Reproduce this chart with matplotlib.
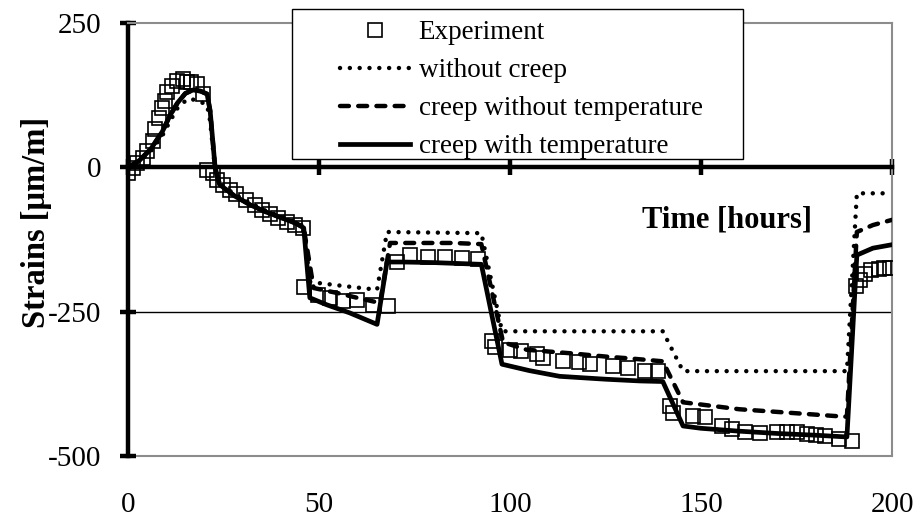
import matplotlib
matplotlib.use('Agg')
import matplotlib.pyplot as plt
from matplotlib.patches import Rectangle

plt.rcParams['font.family'] = ['Liberation Serif', 'DejaVu Serif']
plt.rcParams['axes.unicode_minus'] = False

# ---------------- data ----------------
exp_t = [0, 1.3, 2.3, 3.9, 5.0, 6.5, 7.1, 8.2, 8.9, 9.7, 10.2, 11.5, 12.8, 14.4, 15.4, 16.5, 18.0, 19.7,
         20.7, 22.3, 23.3, 24.9, 26.7, 28.3, 30.9, 33.2, 35.0, 37.2, 39.3, 41.6, 43.7, 45.8,
         46.2, 49.7, 52.9, 56.3, 59.9, 64.1, 68.0,
         70.4, 73.8, 78.5, 83.0, 87.4, 91.6,
         95.3, 96.0, 100, 103, 107, 108.6, 114, 118, 121, 127, 131, 135.3, 138.7,
         141.9, 142.7, 148, 151, 155.5, 158, 161.5, 165.4, 170, 172.5, 175, 177.7, 180, 182.5, 186, 189.5,
         190.5, 191.5, 193, 194.5, 196.5, 198, 199.5]
exp_y = [-10, -2, 7, 17, 29, 46, 67, 86, 103, 115, 130, 141, 150, 153, 148, 147, 145, 127,
         -5, -10, -22, -31, -40, -47, -57, -66, -74, -81, -88, -95, -100, -105,
         -207, -221, -226, -232, -229, -238, -241,
         -164, -152, -155, -156, -157, -158,
         -301, -312, -316, -318, -324, -330, -336, -338, -341, -344, -347, -353, -353,
         -413, -425, -431, -433, -448, -453, -459, -460, -459, -459, -459, -462, -464, -465, -471, -474,
         -205, -195, -185, -178, -176, -175, -175]

nocreep_t = [0, 3, 6, 9, 11, 13, 15, 16.2, 18.8, 20.7, 21.5, 22.8, 24, 28, 32, 36, 40, 44, 46,
             47.6, 49.4, 57, 65.2, 67.8, 80, 92.5, 97.9, 120, 140, 145.3, 170, 188.2, 190.8, 200]
nocreep_y = [0, 10, 28, 55, 80, 103, 115, 119, 114, 108, 80, -5, -28, -47, -62, -75, -85, -95, -102,
             -198, -200, -206, -212, -112, -113, -114, -284, -284, -284, -353, -353, -353, -45, -45]

creep_t = [0, 3, 6, 9, 11, 13, 15, 17, 19, 20.7, 21.5, 22.8, 24, 28, 32, 36, 40, 44, 46,
           48.6, 55, 60, 66, 68.6, 75, 85, 92.5, 98.2, 104.4, 115.7, 125.4, 131.4, 140,
           145.3, 160, 175, 185.6, 188.2, 190.8, 195, 200]
creep_y = [0, 12, 32, 62, 90, 112, 128, 134, 132, 127, 98, 0, -30, -50, -65, -77, -87, -97, -105,
           -209, -218, -226, -235, -131, -131, -131, -133, -303, -316, -322, -328, -331, -336,
           -407, -419, -426, -431, -432, -112, -100, -91]

creepT_t = [0, 3, 6, 9, 11, 13, 15, 17, 19, 20.7, 21.5, 22.8, 24, 28, 32, 36, 40, 44, 46,
            47.6, 52, 58, 65.2, 67.8, 72, 80, 92.5, 97.9, 105, 113, 125, 134, 140,
            145.3, 150, 160, 170, 180, 188.2, 190.8, 195, 200]
creepT_y = [0, 12, 32, 62, 90, 112, 128, 134, 132, 127, 98, 0, -30, -50, -65, -77, -87, -97, -105,
            -226, -238, -252, -272, -164, -164, -165, -168, -341, -352, -362, -367, -370, -371,
            -448, -452, -457, -461, -464, -467, -152, -140, -134]

x_ticks = [0, 50, 100, 150, 200]
y_ticks = [-500, -250, 0, 250]
y_ticklabels = ['-500', '-250', '0', '250']

# ---------------- figure ----------------
W, H = 922, 521
fig = plt.figure(figsize=(W / 100, H / 100), dpi=100)
ax = fig.add_axes([128 / W, 65 / H, 764 / W, 433 / H])
ax.set_xlim(0, 200)
ax.set_ylim(-500, 250)

h_exp, = ax.plot(exp_t, exp_y, ls='none', marker='s', ms=10, mfc='none', mec='black', mew=1.2,
                 label='Experiment', zorder=3)
h_nc, = ax.plot(nocreep_t, nocreep_y, color='black', lw=3.2, ls=(0, (0.01, 2.2)),
                dash_capstyle='round', label='without creep', zorder=4)
h_c, = ax.plot(creep_t, creep_y, color='black', lw=3.2, ls=(0, (2.0, 2.1)),
               dash_capstyle='round', label='creep without temperature', zorder=4)
h_ct, = ax.plot(creepT_t, creepT_y, color='black', lw=3.4, ls='-',
                label='creep with temperature', zorder=4)

ax.axhline(-250, color='black', lw=1.0, zorder=1)

for s in ['top', 'right']:
    ax.spines[s].set_color('#8c8c8c')
    ax.spines[s].set_linewidth(1.5)
ax.spines['left'].set_linewidth(3.2)
ax.spines['left'].set_color('black')
ax.spines['bottom'].set_position(('data', 0))
ax.spines['bottom'].set_linewidth(3.2)
ax.spines['bottom'].set_color('black')
ax.spines['bottom'].set_zorder(2.5)

ax.set_xticks(x_ticks)
ax.tick_params(axis='x', direction='inout', length=11, width=3.2, labelbottom=False)
ax.set_yticks(y_ticks)
ax.set_yticklabels(y_ticklabels)
ax.tick_params(axis='y', direction='inout', length=11, width=3.2, labelsize=21, pad=14)

sec = ax.secondary_xaxis('bottom')
sec.set_xticks(x_ticks)
sec.tick_params(length=0, labelsize=21, pad=26)
sec.spines['bottom'].set_color('#8c8c8c')
sec.spines['bottom'].set_linewidth(1.5)

fig.text(37 / W, 1 - 222 / H, 'Strains [μm/m]', rotation=90, ha='center', va='center',
         fontsize=23.5, fontweight='bold')
fig.text(727 / W, 1 - 220 / H, 'Time [hours]', ha='center', va='center',
         fontsize=22, fontweight='bold')

# legend box
box = Rectangle((292 / W, 1 - 159 / H), (743 - 292) / W, 150 / H, transform=fig.transFigure,
                facecolor='white', edgecolor='black', lw=1.0, zorder=5)
fig.patches.append(box)
leg = fig.legend([h_exp, h_nc, h_c, h_ct],
                 ['Experiment', 'without creep', 'creep without temperature', 'creep with temperature'],
                 loc='upper left', bbox_to_anchor=(340 / W, 1 - 20 / H), frameon=False,
                 fontsize=19.5, handlelength=2.6, handletextpad=0.3, labelspacing=0.48,
                 borderpad=0, borderaxespad=0)
leg.set_zorder(6)

fig.savefig('out.png', dpi=100)
